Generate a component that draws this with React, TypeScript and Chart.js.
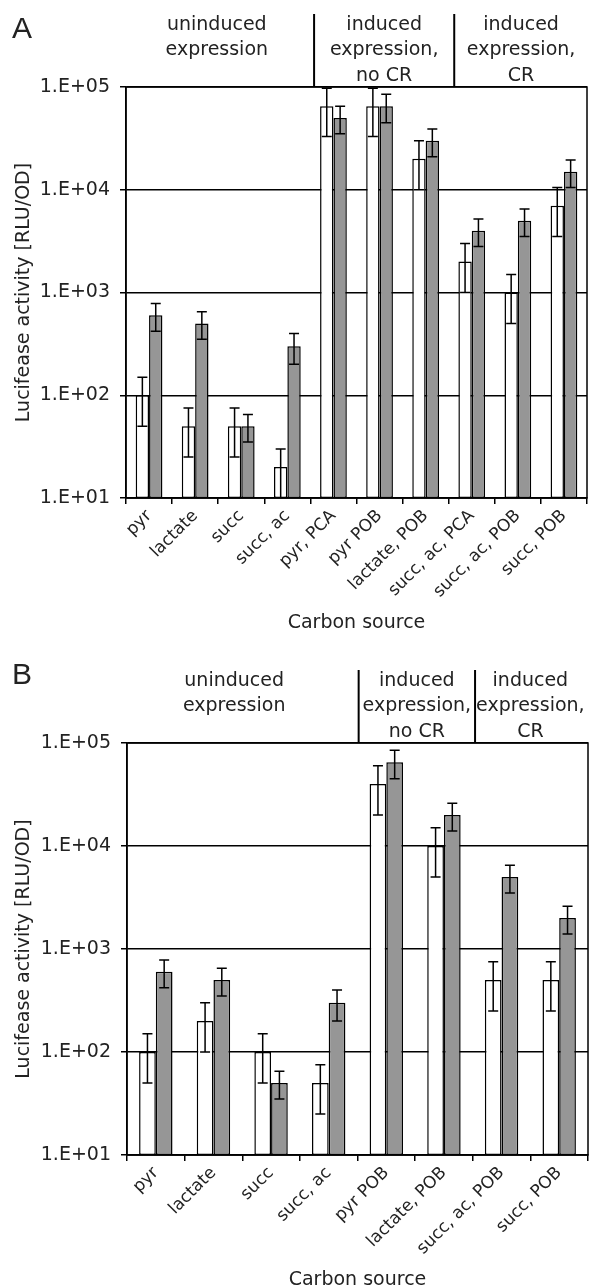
import React, { useEffect, useRef } from 'react';
import { Chart, registerables } from 'chart.js';
Chart.register(...registerables);

// ---------- data ----------
const categoriesA = ['pyr', 'lactate', 'succ', 'succ, ac', 'pyr, PCA', 'pyr POB', 'lactate, POB', 'succ, ac, PCA', 'succ, ac, POB', 'succ, POB'];
const whiteA = [100, 50, 50, 20, 65000, 65000, 20000, 2000, 1000, 7000];
const whiteErrA = [50, 25, 25, 10, 32000, 32000, 10000, 1000, 500, 3500];
const greyA = [600, 500, 50, 300, 50000, 65000, 30000, 4000, 5000, 15000];
const greyErrA = [180, 150, 15, 100, 15000, 20000, 9000, 1200, 1500, 4500];

const categoriesB = ['pyr', 'lactate', 'succ', 'succ, ac', 'pyr POB', 'lactate, POB', 'succ, ac, POB', 'succ, POB'];
const whiteB = [100, 200, 100, 50, 40000, 10000, 500, 500];
const whiteErrB = [50, 100, 50, 25, 20000, 5000, 250, 250];
const greyB = [600, 500, 50, 300, 65000, 20000, 5000, 2000];
const greyErrB = [180, 150, 15, 100, 20000, 6000, 1500, 600];

const yTickValues = [10, 100, 1000, 10000, 100000];

const headerGroupsA = [
  ['uninduced', 'expression'],
  ['induced', 'expression,', 'no CR'],
  ['induced', 'expression,', 'CR'],
];
const headerGroupsB = [
  ['uninduced', 'expression'],
  ['induced', 'expression,', 'no CR'],
  ['induced', 'expression,', 'CR'],
];

const yTitle = 'Lucifease activity [RLU/OD]';
const xTitle = 'Carbon source';

// ---------- layout / style ----------
const FONT = 'DejaVu Sans';
const TEXT = '#222';
const FS = 19;
const XFS = 17;

const panelA = {
  letter: 'A', letterY: 37.5, top: 0, height: 644, padTop: 87, padRight: 2,
  yAxisWidth: 126, xAxisHeight: 146, xTitlePad: 9.9,
  categories: categoriesA, white: whiteA, whiteErr: whiteErrA, grey: greyA, greyErr: greyErrA,
  groups: headerGroupsA, groupCenters: [1.97, 5.6, 8.57], dividers: [4.08, 7.12],
};
const panelB = {
  letter: 'B', letterY: 39.5, top: 644, height: 656, padTop: 99, padRight: 1,
  yAxisWidth: 127, xAxisHeight: 145, xTitlePad: 8.6,
  categories: categoriesB, white: whiteB, whiteErr: whiteErrB, grey: greyB, greyErr: greyErrB,
  groups: headerGroupsB, groupCenters: [1.86, 5.03, 7.0], dividers: [4.02, 6.04],
};

const errorBarPlugin = {
  id: 'errorBars',
  afterDatasetsDraw(chart: any) {
    const { ctx } = chart;
    const y = chart.scales.y;
    ctx.save();
    ctx.strokeStyle = '#000';
    ctx.lineWidth = 1.5;
    chart.data.datasets.forEach((ds: any, i: number) => {
      const meta = chart.getDatasetMeta(i);
      meta.data.forEach((bar: any, j: number) => {
        const v = ds.data[j];
        const e = ds.errors[j];
        const hi = y.getPixelForValue(v + e);
        const lo = y.getPixelForValue(Math.max(v - e, y.min));
        const x = bar.x;
        ctx.beginPath();
        ctx.moveTo(x, hi); ctx.lineTo(x, lo);
        ctx.moveTo(x - 5, hi); ctx.lineTo(x + 5, hi);
        if (v - e > y.min) { ctx.moveTo(x - 5, lo); ctx.lineTo(x + 5, lo); }
        ctx.stroke();
      });
    });
    ctx.restore();
  },
};

const framePlugin = {
  id: 'frame',
  afterDraw(chart: any) {
    const { ctx, chartArea: a } = chart;
    ctx.save();
    ctx.strokeStyle = '#000';
    ctx.lineWidth = 1.5;
    ctx.strokeRect(a.left, a.top, a.right - a.left, a.bottom - a.top);
    ctx.restore();
  },
};

function headerPlugin(p: any) {
  return {
    id: 'header',
    afterDraw(chart: any) {
      const { ctx, chartArea: a } = chart;
      const cw = (a.right - a.left) / p.categories.length;
      ctx.save();
      ctx.fillStyle = TEXT;
      ctx.font = `30px "Liberation Sans"`;
      ctx.textAlign = 'left';
      ctx.textBaseline = 'alphabetic';
      ctx.fillText(p.letter, 12, p.letterY);
      ctx.font = `${FS}px "${FONT}"`;
      ctx.textAlign = 'center';
      ctx.textBaseline = 'middle';
      p.groups.forEach((lines: string[], gi: number) => {
        const cx = a.left + p.groupCenters[gi] * cw;
        lines.forEach((t, li) => ctx.fillText(t, cx, a.top - 62 + 25.3 * li));
      });
      ctx.strokeStyle = '#000';
      ctx.lineWidth = 2;
      p.dividers.forEach((d: number) => {
        const x = a.left + d * cw;
        ctx.beginPath();
        ctx.moveTo(x, a.top - 73);
        ctx.lineTo(x, a.top);
        ctx.stroke();
      });
      ctx.restore();
    },
  };
}

function makeConfig(p: any): any {
  const font = { family: FONT, size: FS };
  return {
    type: 'bar',
    data: {
      labels: p.categories,
      datasets: [
        { data: p.white, errors: p.whiteErr, backgroundColor: '#ffffff', borderColor: '#000', borderWidth: 1.5, borderSkipped: false, categoryPercentage: 0.58, barPercentage: 1 },
        { data: p.grey, errors: p.greyErr, backgroundColor: '#969696', borderColor: '#000', borderWidth: 1.5, borderSkipped: false, categoryPercentage: 0.58, barPercentage: 1 },
      ],
    },
    options: {
      animation: false,
      responsive: false,
      maintainAspectRatio: false,
      devicePixelRatio: 1,
      layout: { padding: { top: p.padTop, right: p.padRight, left: 0, bottom: 0 } },
      plugins: { legend: { display: false }, tooltip: { enabled: false } },
      scales: {
        x: {
          offset: true,
          grid: { display: true, drawOnChartArea: false, drawTicks: true, tickLength: 6, offset: true, color: '#000', lineWidth: 1.5 },
          border: { display: true, color: '#000', width: 1.5 },
          ticks: { autoSkip: false, minRotation: 45, maxRotation: 45, padding: 2, color: TEXT, font: { family: FONT, size: XFS } },
          title: { display: true, text: xTitle, color: TEXT, font, padding: { top: 0, bottom: p.xTitlePad } },
          afterFit: (s: any) => { s.height = p.xAxisHeight; },
        },
        y: {
          type: 'logarithmic',
          min: 10,
          max: 100000,
          afterBuildTicks: (s: any) => { s.ticks = yTickValues.map((v) => ({ value: v })); },
          afterFit: (s: any) => { s.width = p.yAxisWidth; },
          grid: { color: '#000', lineWidth: 1.5, tickLength: 6, drawTicks: true },
          border: { display: true, color: '#000', width: 1.5 },
          ticks: {
            padding: 10, color: TEXT, font,
            callback: (v: any) => '1.E+' + String(Math.round(Math.log10(Number(v)))).padStart(2, '0'),
          },
          title: { display: true, text: yTitle, color: TEXT, font, padding: { top: 12.7, bottom: 0 } },
        },
      },
    },
    plugins: [errorBarPlugin, framePlugin, headerPlugin(p)],
  };
}

function Panel({ p }: { p: any }) {
  const ref = useRef<HTMLCanvasElement>(null);
  useEffect(() => {
    const chart = new Chart(ref.current as HTMLCanvasElement, makeConfig(p));
    return () => chart.destroy();
  }, []);
  return (
    <canvas
      ref={ref}
      width={589}
      height={p.height}
      style={{ position: 'absolute', left: 0, top: p.top, width: 589, height: p.height, display: 'block' }}
    />
  );
}

export default function App() {
  return (
    <div style={{ position: 'absolute', left: 0, top: 0, width: 589, height: 1288, overflow: 'hidden', background: '#fff' }}>
      <Panel p={panelA} />
      <Panel p={panelB} />
    </div>
  );
}
